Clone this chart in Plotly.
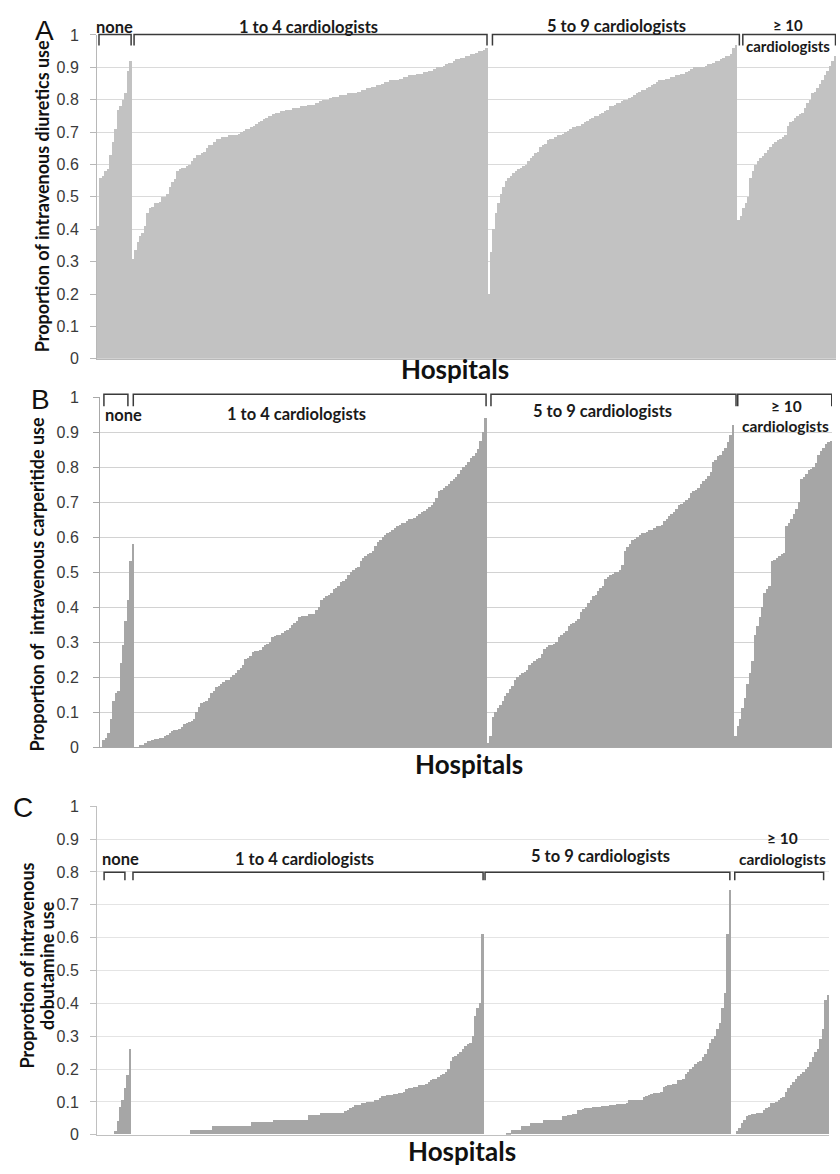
import plotly.graph_objects as go

W, H = 840, 1174

# ---------------- data (proportions per hospital, sorted within group) ----------------
group_names = ["none", "1 to 4 cardiologists", "5 to 9 cardiologists", "≥ 10 cardiologists"]

# Panel A: intravenous diuretics
diuretics_none = [0.41, 0.56, 0.565, 0.58, 0.585, 0.63, 0.67, 0.71, 0.77, 0.78, 0.80, 0.82, 0.89, 0.92]
diuretics_1to4 = [
    0.31, 0.335, 0.36, 0.38, 0.39, 0.41, 0.45, 0.465, 0.47, 0.48,
    0.48, 0.485, 0.50, 0.50, 0.51, 0.53, 0.545, 0.555, 0.58, 0.585,
    0.59, 0.59, 0.595, 0.60, 0.61, 0.62, 0.63, 0.63, 0.635, 0.64,
    0.65, 0.66, 0.66, 0.67, 0.68, 0.68, 0.685, 0.685, 0.685, 0.69,
    0.69, 0.69, 0.69, 0.695, 0.70, 0.705, 0.71, 0.71, 0.715, 0.72,
    0.725, 0.73, 0.735, 0.74, 0.745, 0.75, 0.75, 0.755, 0.76, 0.76,
    0.765, 0.765, 0.77, 0.77, 0.77, 0.775, 0.775, 0.775, 0.78, 0.78,
    0.78, 0.785, 0.785, 0.785, 0.79, 0.79, 0.795, 0.80, 0.80, 0.80,
    0.805, 0.81, 0.81, 0.81, 0.815, 0.815, 0.815, 0.82, 0.82, 0.82,
    0.82, 0.825, 0.825, 0.83, 0.83, 0.835, 0.835, 0.84, 0.84, 0.845,
    0.845, 0.85, 0.855, 0.855, 0.86, 0.86, 0.86, 0.86, 0.865, 0.865,
    0.87, 0.87, 0.875, 0.875, 0.875, 0.88, 0.88, 0.88, 0.885, 0.885,
    0.89, 0.89, 0.895, 0.90, 0.90, 0.90, 0.905, 0.91, 0.915, 0.915,
    0.92, 0.925, 0.925, 0.93, 0.93, 0.935, 0.935, 0.94, 0.94, 0.945,
    0.95, 0.95, 0.955, 0.96]
diuretics_5to9 = [
    0.20, 0.33, 0.40, 0.45, 0.48, 0.51, 0.53, 0.55, 0.56, 0.565,
    0.575, 0.58, 0.585, 0.59, 0.595, 0.60, 0.61, 0.62, 0.625, 0.635,
    0.64, 0.655, 0.66, 0.665, 0.675, 0.68, 0.68, 0.685, 0.69, 0.69,
    0.695, 0.70, 0.705, 0.71, 0.715, 0.715, 0.72, 0.72, 0.725, 0.73,
    0.735, 0.74, 0.745, 0.75, 0.75, 0.755, 0.76, 0.765, 0.77, 0.78,
    0.78, 0.785, 0.79, 0.79, 0.795, 0.80, 0.80, 0.805, 0.81, 0.815,
    0.82, 0.825, 0.83, 0.83, 0.835, 0.84, 0.845, 0.85, 0.855, 0.86,
    0.86, 0.86, 0.865, 0.865, 0.87, 0.87, 0.875, 0.875, 0.88, 0.88,
    0.885, 0.89, 0.895, 0.90, 0.90, 0.90, 0.90, 0.90, 0.905, 0.91,
    0.91, 0.915, 0.92, 0.92, 0.925, 0.93, 0.935, 0.935, 0.94, 0.96,
    0.97]
diuretics_10plus = [
    0.43, 0.44, 0.465, 0.48, 0.50, 0.56, 0.58, 0.60, 0.61, 0.62,
    0.625, 0.635, 0.645, 0.655, 0.665, 0.67, 0.675, 0.68, 0.685, 0.69,
    0.72, 0.73, 0.735, 0.745, 0.75, 0.755, 0.76, 0.775, 0.79, 0.80,
    0.82, 0.825, 0.835, 0.85, 0.86, 0.875, 0.89, 0.905, 0.92, 0.935]

# Panel B: intravenous carperitide
carperitide_none = [0, 0.02, 0.025, 0.04, 0.08, 0.13, 0.155, 0.16, 0.24, 0.29, 0.36, 0.42, 0.53, 0.58]
carperitide_1to4 = [
    0, 0, 0.005, 0.005, 0.01, 0.017, 0.018, 0.02, 0.023, 0.023,
    0.025, 0.025, 0.03, 0.035, 0.04, 0.045, 0.047, 0.048, 0.05, 0.058,
    0.066, 0.068, 0.07, 0.075, 0.08, 0.10, 0.115, 0.125, 0.127, 0.13,
    0.14, 0.155, 0.16, 0.17, 0.175, 0.18, 0.185, 0.19, 0.19, 0.20,
    0.205, 0.21, 0.22, 0.225, 0.235, 0.25, 0.255, 0.26, 0.27, 0.273,
    0.275, 0.278, 0.285, 0.29, 0.295, 0.30, 0.315, 0.318, 0.32, 0.32,
    0.325, 0.33, 0.335, 0.34, 0.348, 0.355, 0.36, 0.37, 0.375, 0.375,
    0.375, 0.38, 0.38, 0.38, 0.39, 0.40, 0.42, 0.425, 0.43, 0.435,
    0.44, 0.45, 0.455, 0.46, 0.47, 0.475, 0.48, 0.49, 0.50, 0.505,
    0.51, 0.515, 0.53, 0.54, 0.545, 0.55, 0.555, 0.56, 0.575, 0.585,
    0.59, 0.60, 0.605, 0.61, 0.615, 0.62, 0.625, 0.63, 0.635, 0.64,
    0.64, 0.645, 0.65, 0.65, 0.655, 0.66, 0.665, 0.67, 0.675, 0.68,
    0.685, 0.69, 0.70, 0.71, 0.73, 0.735, 0.74, 0.745, 0.75, 0.76,
    0.765, 0.77, 0.78, 0.79, 0.80, 0.805, 0.815, 0.825, 0.83, 0.84,
    0.85, 0.875, 0.90, 0.94]
carperitide_5to9 = [
    0.01, 0.03, 0.085, 0.10, 0.11, 0.12, 0.13, 0.145, 0.155, 0.165,
    0.175, 0.19, 0.20, 0.205, 0.21, 0.215, 0.22, 0.235, 0.24, 0.245,
    0.25, 0.255, 0.265, 0.28, 0.285, 0.29, 0.29, 0.295, 0.30, 0.315,
    0.32, 0.325, 0.33, 0.345, 0.35, 0.355, 0.36, 0.365, 0.385, 0.395,
    0.40, 0.41, 0.42, 0.43, 0.435, 0.445, 0.455, 0.46, 0.48, 0.485,
    0.49, 0.495, 0.50, 0.50, 0.505, 0.52, 0.56, 0.57, 0.58, 0.59,
    0.595, 0.60, 0.605, 0.61, 0.61, 0.615, 0.62, 0.62, 0.625, 0.63,
    0.63, 0.635, 0.645, 0.65, 0.66, 0.665, 0.67, 0.68, 0.69, 0.695,
    0.70, 0.705, 0.71, 0.725, 0.73, 0.735, 0.74, 0.75, 0.76, 0.765,
    0.775, 0.785, 0.815, 0.82, 0.83, 0.835, 0.845, 0.855, 0.87, 0.89,
    0.92]
carperitide_10plus = [
    0.03, 0.06, 0.08, 0.11, 0.14, 0.18, 0.21, 0.245, 0.32, 0.345,
    0.37, 0.40, 0.44, 0.45, 0.46, 0.53, 0.535, 0.54, 0.545, 0.55,
    0.555, 0.63, 0.64, 0.65, 0.665, 0.68, 0.70, 0.765, 0.77, 0.78,
    0.79, 0.795, 0.80, 0.81, 0.835, 0.845, 0.855, 0.865, 0.87, 0.875]

# Panel C: intravenous dobutamine
dobutamine_none = [0, 0, 0, 0, 0, 0, 0, 0.01, 0.04, 0.085, 0.105, 0.14, 0.18, 0.26]
dobutamine_1to4 = [
    0, 0, 0, 0, 0, 0, 0, 0, 0, 0,
    0, 0, 0, 0, 0, 0, 0, 0, 0, 0,
    0, 0, 0, 0, 0.015, 0.015, 0.015, 0.015, 0.015, 0.015,
    0.015, 0.015, 0.015, 0.025, 0.025, 0.025, 0.025, 0.025, 0.025, 0.025,
    0.025, 0.025, 0.025, 0.025, 0.025, 0.025, 0.025, 0.025, 0.025, 0.037,
    0.037, 0.037, 0.037, 0.037, 0.037, 0.037, 0.037, 0.037, 0.045, 0.045,
    0.045, 0.045, 0.045, 0.045, 0.045, 0.045, 0.045, 0.045, 0.045, 0.045,
    0.045, 0.045, 0.058, 0.058, 0.058, 0.058, 0.058, 0.064, 0.064, 0.064,
    0.064, 0.064, 0.064, 0.064, 0.064, 0.064, 0.064, 0.072, 0.076, 0.08,
    0.085, 0.09, 0.09, 0.09, 0.095, 0.095, 0.10, 0.10, 0.10, 0.105,
    0.105, 0.11, 0.118, 0.118, 0.12, 0.12, 0.12, 0.122, 0.122, 0.125,
    0.125, 0.13, 0.138, 0.14, 0.14, 0.145, 0.145, 0.15, 0.15, 0.152,
    0.155, 0.16, 0.165, 0.168, 0.17, 0.175, 0.18, 0.185, 0.19, 0.20,
    0.225, 0.235, 0.24, 0.245, 0.25, 0.26, 0.27, 0.275, 0.28, 0.30,
    0.36, 0.385, 0.40, 0.61]
dobutamine_5to9 = [
    0, 0, 0, 0, 0, 0, 0, 0, 0, 0.005,
    0.005, 0.013, 0.013, 0.013, 0.013, 0.025, 0.025, 0.025, 0.025, 0.035,
    0.035, 0.035, 0.035, 0.035, 0.043, 0.043, 0.043, 0.043, 0.043, 0.043,
    0.043, 0.043, 0.055, 0.055, 0.06, 0.06, 0.062, 0.062, 0.075, 0.076,
    0.078, 0.08, 0.08, 0.082, 0.083, 0.084, 0.085, 0.085, 0.086, 0.087,
    0.088, 0.09, 0.09, 0.09, 0.092, 0.092, 0.093, 0.094, 0.095, 0.105,
    0.105, 0.105, 0.105, 0.105, 0.105, 0.115, 0.118, 0.12, 0.122, 0.125,
    0.125, 0.125, 0.13, 0.145, 0.148, 0.15, 0.152, 0.155, 0.155, 0.165,
    0.166, 0.17, 0.185, 0.19, 0.20, 0.205, 0.215, 0.22, 0.225, 0.235,
    0.245, 0.26, 0.28, 0.29, 0.30, 0.32, 0.34, 0.385, 0.43, 0.61,
    0.745]
dobutamine_10plus = [
    0, 0, 0.01, 0.02, 0.035, 0.045, 0.055, 0.06, 0.062, 0.062,
    0.064, 0.065, 0.065, 0.075, 0.08, 0.085, 0.095, 0.095, 0.098, 0.105,
    0.11, 0.115, 0.13, 0.14, 0.15, 0.16, 0.17, 0.178, 0.185, 0.19,
    0.198, 0.205, 0.22, 0.235, 0.25, 0.26, 0.29, 0.32, 0.41, 0.425]

y_ticks = [0, 0.1, 0.2, 0.3, 0.4, 0.5, 0.6, 0.7, 0.8, 0.9, 1]
y_ticktext = ["0", "0.1", "0.2", "0.3", "0.4", "0.5", "0.6", "0.7", "0.8", "0.9", "1"]

# ---------------- layout helpers ----------------
def py(p):  # pixel y -> paper
    return 1 - p / H

def pxx(p):  # pixel x -> paper
    return p / W

panels = [
    dict(letter="A", letter_pos=(44, 23),
         groups=[diuretics_none, diuretics_1to4, diuretics_5to9, diuretics_10plus],
         color="#c2c2c2", x0=97, x1=836, ytop=27.3, ybot=356,
         grid="#dadada", axis="#b8b8b8", standoff=8,
         titles=[("Proportion of intravenous diuretics use", 41.5, 191.5)],
         hosp_pos=(455, 366),
         brackets=[(0.3, 13.3), (14.5, 157.3), (159.5, 259.4), (260.8, 298.3)],
         br_top=27, br_bot=38,
         labels=[("none", 6.4, 19, 16.5), ("1 to 4 cardiologists", 85.1, 19, 16.5),
                 ("5 to 9 cardiologists", 209.8, 18, 16.5), ("≥ 10", 278.9, 17, 15),
                 ("cardiologists", 278.9, 39, 15)]),
    dict(letter="B", letter_pos=(40, 397),
         groups=[carperitide_none, carperitide_1to4, carperitide_5to9, carperitide_10plus],
         color="#a6a6a6", x0=100, x1=832, ytop=395, ybot=750,
         grid="#d2d2d2", axis="#a8a8a8", standoff=11,
         titles=[("Proportion of\u00a0 intravenous carperitide use", 37, 585)],
         hosp_pos=(469, 767),
         brackets=[(1.1, 10.9), (13.1, 157.2), (159.2, 259.3), (260.0, 298.4)],
         br_top=392, br_bot=404,
         labels=[("none", 9.3, 413, 16.5), ("1 to 4 cardiologists", 79.9, 412, 16.5),
                 ("5 to 9 cardiologists", 204.9, 409, 16.5), ("≥ 10", 280.0, 404, 15.5),
                 ("cardiologists", 279.7, 424, 15.5)]),
    dict(letter="C", letter_pos=(22.5, 811.5),
         groups=[dobutamine_none, dobutamine_1to4, dobutamine_5to9, dobutamine_10plus],
         color="#a6a6a6", x0=97, x1=829, ytop=810, ybot=1143.3,
         grid="#e4e4e4", axis="#c0c0c0", standoff=8,
         titles=[("Proprotion of intravenous", 26.5, 972), ("dobutamine use", 47, 972)],
         hosp_pos=(462, 1160),
         brackets=[(2.4, 10.9), (14.2, 157.2), (158.0, 258.0), (260.0, 296.3)],
         br_top=877, br_bot=885,
         labels=[("none", 9.3, 864, 16.5), ("1 to 4 cardiologists", 84.3, 864, 16.5),
                 ("5 to 9 cardiologists", 205.0, 860, 16.5), ("≥ 10", 279.3, 842, 15.5),
                 ("cardiologists", 279.6, 863, 15.5)]),
]

fig = go.Figure()
shapes, annotations = [], []

for k, p in enumerate(panels):
    n = "" if k == 0 else str(k + 1)
    values = [v for g in p["groups"] for v in g]
    idx = list(range(len(values)))
    fig.add_trace(go.Bar(x=idx, y=values, xaxis="x" + n, yaxis="y" + n,
                         marker=dict(color=p["color"], line=dict(width=0)),
                         showlegend=False, hoverinfo="skip"))
    fig.layout["xaxis" + n] = dict(
        domain=[pxx(p["x0"]), pxx(p["x1"])], anchor="y" + n,
        range=[-0.5, len(values) - 0.5], showticklabels=False, ticks="",
        showgrid=False, zeroline=False, showline=True, linecolor=p["axis"], linewidth=1,
        fixedrange=True)
    fig.layout["yaxis" + n] = dict(
        domain=[py(p["ybot"]), py(p["ytop"])], anchor="x" + n,
        range=[0, 1], tickvals=y_ticks, ticktext=y_ticktext,
        ticks="outside", ticklen=6, tickcolor=p["axis"], tickwidth=1,
        showline=True, linecolor=p["axis"], linewidth=1,
        showgrid=True, gridcolor=p["grid"], gridwidth=1, zeroline=False,
        ticklabelstandoff=p["standoff"],
        tickfont=dict(family="Liberation Sans, Arial, sans-serif", size=16, color="#3a3a3a"),
        fixedrange=True)

    # group brackets
    for (a, b) in p["brackets"]:
        yt, yb = py(p["br_top"]), py(p["br_bot"])
        shapes.append(dict(type="path", xref="x" + n, yref="paper",
                           path=f"M {a},{yb} L {a},{yt} L {b},{yt} L {b},{yb}",
                           line=dict(color="#3a3a3a", width=1.5)))
    for (txt, xi, ypx, fs) in p["labels"]:
        annotations.append(dict(text=txt, x=xi, y=py(ypx), xref="x" + n, yref="paper",
                                xanchor="center", yanchor="middle", showarrow=False,
                                font=dict(family="Lato, Open Sans, sans-serif", size=fs,
                                          color="#1a1a1a", weight="bold")))
    # panel letter
    lx, ly = p["letter_pos"]
    annotations.append(dict(text=p["letter"], x=pxx(lx), y=py(ly), xref="paper", yref="paper",
                            xanchor="center", yanchor="middle", showarrow=False,
                            font=dict(family="Liberation Sans, Arial, sans-serif", size=28, color="#111111")))
    # y title(s)
    for (txt, tx, ty) in p["titles"]:
        annotations.append(dict(text=txt, x=pxx(tx), y=py(ty), xref="paper", yref="paper",
                                xanchor="center", yanchor="middle", showarrow=False, textangle=-90,
                                font=dict(family="Lato, Open Sans, sans-serif", size=18,
                                          color="#111111", weight="bold")))
    # x title
    hx, hy = p["hosp_pos"]
    annotations.append(dict(text="Hospitals", x=pxx(hx), y=py(hy), xref="paper", yref="paper",
                            xanchor="center", yanchor="middle", showarrow=False,
                            font=dict(family="Lato, Open Sans, sans-serif", size=26,
                                      color="#111111", weight="bold")))

fig.update_layout(width=W, height=H, margin=dict(l=0, r=0, t=0, b=0),
                  paper_bgcolor="white", plot_bgcolor="white",
                  bargap=0, barmode="overlay",
                  shapes=shapes, annotations=annotations)

fig.write_html("out.html",
               config={"displayModeBar": False},
               post_script="document.body.style.margin='0px';document.body.style.overflow='hidden';")
